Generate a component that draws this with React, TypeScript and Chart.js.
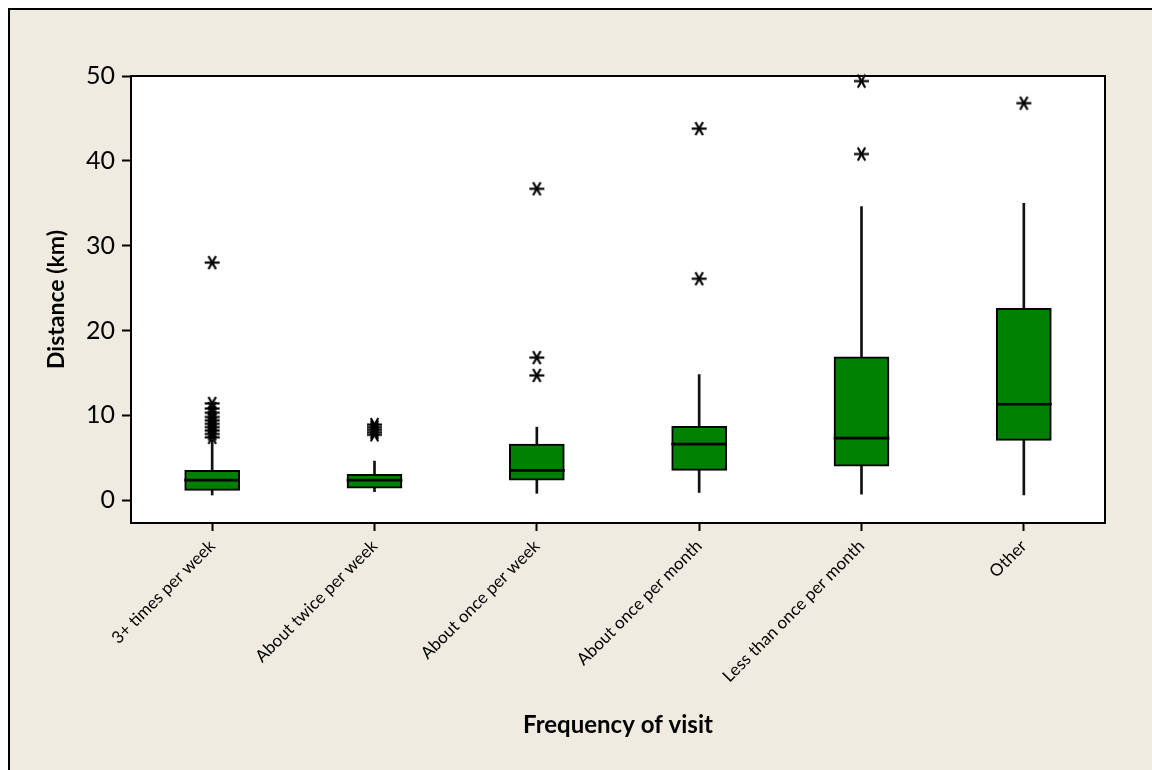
import React, { useEffect, useRef } from "react";
import { Chart, registerables } from "chart.js";

Chart.register(...registerables);

const categories = [
  "3+ times per week",
  "About twice per week",
  "About once per week",
  "About once per month",
  "Less than once per month",
  "Other",
];
const whiskerLow = [0.6, 1.0, 0.8, 0.9, 0.7, 0.6];
const q1 = [1.15, 1.4, 2.35, 3.5, 4.0, 7.05];
const median = [2.35, 2.35, 3.5, 6.6, 7.3, 11.3];
const q3 = [3.5, 3.05, 6.6, 8.7, 16.9, 22.6];
const whiskerHigh = [7.05, 4.6, 8.6, 14.8, 34.6, 35.0];

const outliers3PerWeek = [7.4, 7.8, 8.2, 8.6, 9.0, 9.4, 9.8, 10.3, 10.8, 11.4, 28.0];
const outliersTwice = [7.7, 8.0, 8.3, 8.6, 8.9];
const outliersOnceWeek = [14.7, 16.8, 36.7];
const outliersOnceMonth = [26.1, 43.8];
const outliersLessMonth = [40.8, 49.4];
const outliersOther = [46.8];
const outliers = [
  outliers3PerWeek,
  outliersTwice,
  outliersOnceWeek,
  outliersOnceMonth,
  outliersLessMonth,
  outliersOther,
];

const yTicks = [0, 10, 20, 30, 40, 50];
const yMin = -2.7;
const yMax = 50;

const GREEN = "#008000";
const FONT = "Lato, 'Open Sans', sans-serif";

export default function App() {
  const ref = useRef<HTMLCanvasElement>(null);

  useEffect(() => {
    const star = document.createElement("canvas");
    star.width = 17;
    star.height = 17;
    const c = star.getContext("2d")!;
    c.strokeStyle = "#000";
    c.lineWidth = 2.2;
    for (const a of [0, 60, 120]) {
      const r = (a * Math.PI) / 180;
      c.beginPath();
      c.moveTo(8.5 - 7.5 * Math.cos(r), 8.5 - 7.5 * Math.sin(r));
      c.lineTo(8.5 + 7.5 * Math.cos(r), 8.5 + 7.5 * Math.sin(r));
      c.stroke();
    }

    const outlierPoints: { x: string; y: number }[] = [];
    outliers.forEach((list, i) => list.forEach((y) => outlierPoints.push({ x: categories[i], y })));

    const plotFrame = {
      id: "plotFrame",
      beforeDraw(chart: any) {
        const { ctx, chartArea: a } = chart;
        ctx.save();
        ctx.fillStyle = "#ffffff";
        ctx.fillRect(a.left, a.top, a.right - a.left, a.bottom - a.top);
        ctx.restore();
      },
      beforeDatasetsDraw(chart: any) {
        const { ctx, chartArea: a } = chart;
        ctx.save();
        ctx.strokeStyle = "#000";
        ctx.lineWidth = 2;
        ctx.strokeRect(a.left, a.top, a.right - a.left, a.bottom - a.top);
        ctx.restore();
      },
    };

    const chart = new Chart(ref.current!, {
      type: "bar",
      data: {
        labels: categories,
        datasets: [
          {
            type: "line",
            data: outlierPoints as any,
            showLine: false,
            pointStyle: star as any,
            pointRadius: 8,
            clip: false as any,
            order: 0,
          } as any,
          {
            data: median.map((m) => [m - 0.12, m + 0.12]) as any,
            backgroundColor: "#000",
            barThickness: 55,
            grouped: false,
            order: 1,
          },
          {
            data: q1.map((v, i) => [v, q3[i]]) as any,
            backgroundColor: GREEN,
            borderColor: "#000",
            borderWidth: 2,
            borderSkipped: false,
            barThickness: 55,
            grouped: false,
            order: 2,
          },
          {
            data: whiskerLow.map((v, i) => [v, whiskerHigh[i]]) as any,
            backgroundColor: "#111",
            barThickness: 2,
            grouped: false,
            order: 3,
          },
        ],
      },
      options: {
        responsive: false,
        devicePixelRatio: 1,
        animation: false,
        layout: { padding: { left: 29, top: 66, right: 47, bottom: 27 } },
        plugins: { legend: { display: false }, tooltip: { enabled: false } },
        scales: {
          x: {
            type: "category",
            offset: true,
            grid: {
              drawOnChartArea: false,
              drawTicks: true,
              tickLength: 8,
              tickWidth: 2,
              color: "#000",
              offset: false,
            },
            border: { display: true, color: "#000", width: 2 },
            ticks: {
              color: "#000",
              font: { family: FONT, size: 17 },
              maxRotation: 45,
              minRotation: 45,
              autoSkip: false,
              padding: 5,
            },
            title: {
              display: true,
              text: "Frequency of visit",
              color: "#000",
              font: { family: FONT, size: 24, weight: "bold" },
              padding: { top: 4, bottom: 3 },
            },
            afterFit(s: any) {
              s.height = 220;
            },
          },
          y: {
            type: "linear",
            min: yMin,
            max: yMax,
            grid: {
              drawOnChartArea: false,
              drawTicks: true,
              tickLength: 9,
              tickWidth: 2,
              color: "#000",
            },
            border: { display: true, color: "#000", width: 2 },
            ticks: {
              color: "#000",
              font: { family: FONT, size: 25 },
              padding: 7,
              includeBounds: false,
            },
            afterBuildTicks(s: any) {
              s.ticks = yTicks.map((v) => ({ value: v }));
            },
            title: {
              display: true,
              text: "Distance (km)",
              color: "#000",
              font: { family: FONT, size: 23, weight: "bold" },
              padding: { top: 4, bottom: 4 },
            },
            afterFit(s: any) {
              s.width = 92;
            },
          },
        },
      },
      plugins: [plotFrame],
    } as any);

    return () => chart.destroy();
  }, []);

  return (
    <div
      style={{
        position: "fixed",
        left: 8,
        top: 8,
        width: 1144,
        height: 762,
        boxSizing: "border-box",
        borderLeft: "2px solid #000",
        borderTop: "2px solid #000",
        background: "#EFEBE0",
      }}
    >
      <canvas ref={ref} width={1142} height={760} style={{ display: "block", width: 1142, height: 760 }} />
    </div>
  );
}
